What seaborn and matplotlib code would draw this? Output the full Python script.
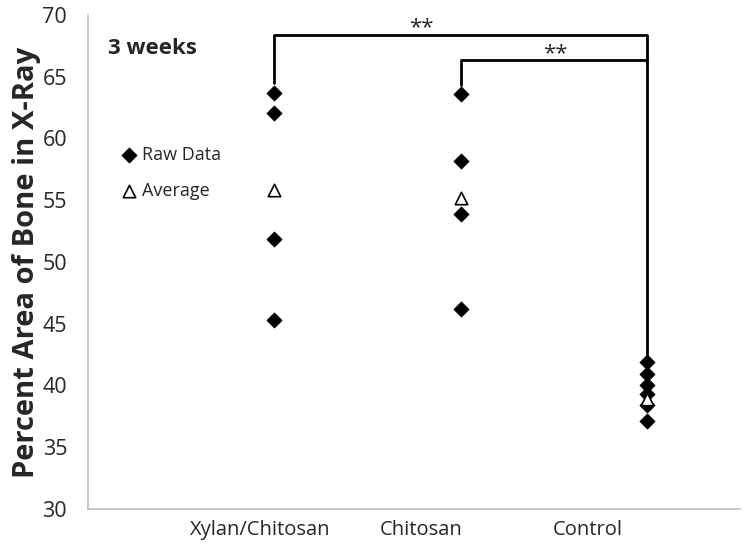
import numpy as np
import pandas as pd
import matplotlib
matplotlib.use("Agg")
import matplotlib.pyplot as plt
import seaborn as sns

# data
groups = ["Xylan/Chitosan", "Chitosan", "Control"]
xylan_raw = [63.7, 62.1, 51.9, 45.3]
chitosan_raw = [63.6, 58.2, 53.9, 46.2]
control_raw = [41.9, 40.9, 40.0, 39.3, 38.4, 37.1]
averages = [55.8, 55.2, 38.9]
sig_labels = ["**", "**"]

group_pos = [1, 2, 3]            # where the points sit
label_pos = [0.925, 1.79, 2.68]  # where the category text sits

raw = pd.DataFrame({
    "x": [1] * len(xylan_raw) + [2] * len(chitosan_raw) + [3] * len(control_raw),
    "y": xylan_raw + chitosan_raw + control_raw,
})
avg = pd.DataFrame({"x": group_pos, "y": averages})

sns.set_style("white")
plt.rcParams["font.family"] = ["Open Sans", "DejaVu Sans"]

fig = plt.figure(figsize=(7.5, 5.49), dpi=100)
ax = fig.add_axes([0.1173, 0.0729, 0.8694, 0.8998])

sns.scatterplot(data=raw, x="x", y="y", marker="D", s=60, color="black",
                edgecolor="black", linewidth=0.5, ax=ax, label="Raw Data", zorder=3)
sns.scatterplot(data=avg, x="x", y="y", marker="^", s=80, facecolor="white",
                edgecolor="black", linewidth=1.2, ax=ax, label="Average", zorder=4)

ax.set_xlim(0, 3.5)
ax.set_ylim(30, 70)
ax.set_yticks(np.arange(30, 71, 5))
ax.set_xticks(label_pos)
ax.set_xticklabels(groups, fontsize=14.5)
ax.tick_params(axis="y", labelsize=15.5, direction="inout", length=12,
               color="#bfbfbf", width=1, pad=9)
ax.tick_params(axis="x", length=0, pad=8)
ax.set_xlabel("")
ax.set_ylabel("Percent Area of Bone in X-Ray", fontsize=21, fontweight="bold", labelpad=1)

for side in ["top", "right"]:
    ax.spines[side].set_visible(False)
for side in ["left", "bottom"]:
    ax.spines[side].set_color("#bfbfbf")
    ax.spines[side].set_linewidth(1.2)

# significance brackets
ax.plot([1, 1, 3, 3], [64.5, 68.4, 68.4, 42.5], color="black", lw=2, zorder=2)
ax.plot([2, 2, 3], [64.3, 66.35, 66.35], color="black", lw=2, zorder=2)
ax.text(1.79, 69.0, sig_labels[0], ha="center", va="center", fontsize=16)
ax.text(2.51, 66.9, sig_labels[1], ha="center", va="center", fontsize=16)

ax.text(0.031, 0.933, "3 weeks", transform=ax.transAxes, fontsize=16,
        fontweight="bold", va="center", ha="left")

ax.legend(frameon=False, loc="center left", bbox_to_anchor=(0.022, 0.68),
          fontsize=13, handletextpad=0.1, labelspacing=1.0, handlelength=1.2)

fig.savefig("out.png", dpi=100)
